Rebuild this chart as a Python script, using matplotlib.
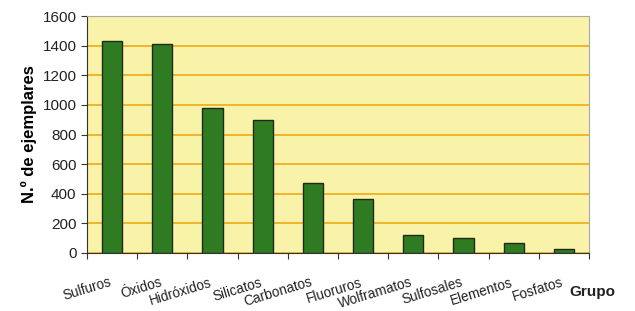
import matplotlib.pyplot as plt

plt.rcParams['font.family'] = ['Liberation Sans', 'DejaVu Sans']

# Grupos de minerales y número de ejemplares
grupos = ['Sulfuros', 'Óxidos', 'Hidróxidos', 'Silicatos', 'Carbonatos',
          'Fluoruros', 'Wolframatos', 'Sulfosales', 'Elementos', 'Fosfatos']
ejemplares = [1432, 1414, 982, 898, 471, 365, 122, 104, 65, 27]

fig = plt.figure(figsize=(6.35, 3.11), dpi=100)
ax = fig.add_axes([87 / 635, 1 - 253 / 311, 502 / 635, 237 / 311])
ax.set_facecolor('#F8F3A8')

x = range(len(grupos))
ax.bar(x, ejemplares, width=0.4, color='#2E7B22', edgecolor='#1E2A1A',
       linewidth=1.0, zorder=3)

ax.set_xlim(-0.5, len(grupos) - 0.5)
ax.set_ylim(0, 1600)
ax.set_yticks(range(0, 1601, 200))
ax.yaxis.grid(True, color='#F0B020', linewidth=1.3, zorder=1)
ax.tick_params(axis='y', labelsize=11, length=4, color='#333333', colors='#222222')

ax.set_xticks([i - 0.5 for i in range(len(grupos) + 1)])
ax.set_xticklabels([])
ax.tick_params(axis='x', length=4, color='#333333')
for i, g in enumerate(grupos):
    ax.text(i + 0.02, -150, g, rotation=17, ha='right', va='top',
            fontsize=9.8, color='#222222')

for s in ['top', 'right']:
    ax.spines[s].set_color('#A8A8A8')
for s in ['left', 'bottom']:
    ax.spines[s].set_color('#333333')

ax.set_ylabel('N.º de ejemplares', fontsize=12, fontweight='bold', labelpad=4)
fig.text(592 / 635, 1 - 292 / 311, 'Grupo', fontsize=11, fontweight='bold',
         ha='center', va='center', color='#222222')

fig.savefig('out.png', dpi=100)
